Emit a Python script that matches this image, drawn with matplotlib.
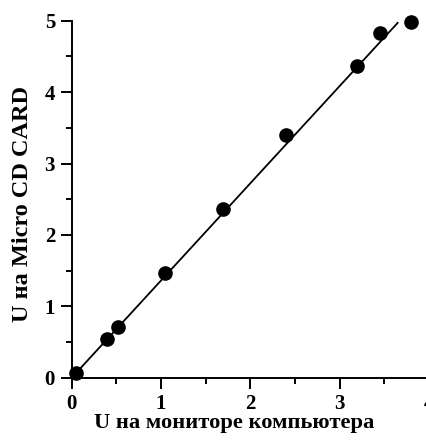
import numpy as np
import matplotlib.pyplot as plt
from matplotlib.ticker import MultipleLocator

# measured points
u_monitor = [0.05, 0.40, 0.52, 1.04, 1.69, 2.40, 3.19, 3.45, 3.80]
u_card = [0.07, 0.54, 0.71, 1.46, 2.36, 3.40, 4.37, 4.83, 4.98]
# fitted line, as drawn
fit_x = [0.0, 3.65]
fit_y = [0.0, 4.97]

plt.rcParams['font.family'] = ['Liberation Serif', 'DejaVu Serif']
plt.rcParams['font.weight'] = 'bold'

fig = plt.figure(figsize=(4.27, 4.41), dpi=100)
ax = fig.add_axes([0.168, 0.1435, 0.8365, 0.8095])

ax.plot(fit_x, fit_y, color='black', lw=1.3)
ax.plot(u_monitor, u_card, 'o', color='black', ms=9.5, clip_on=False, zorder=3)

ax.set_xlim(0, 4)
ax.set_ylim(0, 5)
ax.xaxis.set_major_locator(MultipleLocator(1))
ax.xaxis.set_minor_locator(MultipleLocator(0.5))
ax.yaxis.set_major_locator(MultipleLocator(1))
ax.yaxis.set_minor_locator(MultipleLocator(0.5))

for s in ['top', 'right']:
    ax.spines[s].set_visible(False)
for s in ['left', 'bottom']:
    ax.spines[s].set_linewidth(1.4)

ax.tick_params(which='major', direction='out', length=8, width=1.4, labelsize=15, pad=4)
ax.tick_params(which='minor', direction='out', length=4.5, width=1.4)

ax.set_xlabel('U на мониторе компьютера', fontsize=16.2, fontweight='bold')
ax.set_ylabel('U на Micro CD CARD', fontsize=17.5, fontweight='bold')
ax.xaxis.set_label_coords(0.454, -0.098)
ax.yaxis.set_label_coords(-0.108, 0.488)

fig.savefig('out.png', dpi=100)
